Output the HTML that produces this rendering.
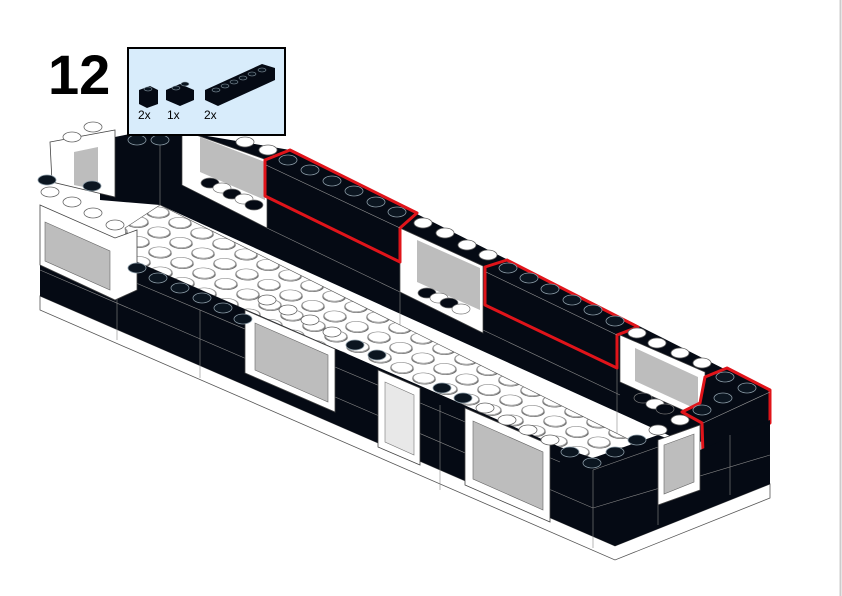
<!DOCTYPE html>
<html><head><meta charset="utf-8"><style>
html,body{margin:0;padding:0;background:#fff;}
svg{display:block;}
</style></head><body>
<svg width="842" height="596" viewBox="0 0 842 596" xmlns="http://www.w3.org/2000/svg">
<defs>
<pattern id="studs" patternUnits="userSpaceOnUse" width="1" height="1" patternTransform="matrix(22,10.5,-21,9.5,157.5,203)">
<rect width="1" height="1" fill="#fff"/>
<circle cx="0.5" cy="0.5" r="0.36" fill="#fff" stroke="#666" stroke-width="0.05"/>
<circle cx="0.45" cy="0.45" r="0.36" fill="#fff" stroke="#888" stroke-width="0.04"/>
</pattern>
</defs>
<rect width="842" height="596" fill="#fff"/>
<line x1="840.5" y1="0" x2="840.5" y2="596" stroke="#ccc" stroke-width="2"/>

<polygon points="40,296 615,546 770,484 770,498 615,560 40,310" fill="#fff" stroke="#555" stroke-width="0.8"/>

<polygon points="100,200 100,140 160,128 290,150 770,392 770,420 690,445 160,205" fill="#050a14"/>
<g stroke="#888" stroke-width="0.6" fill="none">
<line x1="160" y1="205" x2="160" y2="128"/>
<line x1="267" y1="228" x2="400" y2="292"/>
<line x1="400" y1="262" x2="400" y2="325"/>
<line x1="483" y1="330" x2="620" y2="395"/>
<line x1="617" y1="368" x2="617" y2="433"/>
</g>
<polygon points="125,228 160,205 400,325 640,445 690,445 600,465 128,258" fill="url(#studs)" stroke="#555" stroke-width="0.6"/>

<polygon points="182,130 267,160 267,228 182,185" fill="#fff" stroke="#444" stroke-width="0.7"/>
<polygon points="200,137 265,162 265,200 200,172" fill="#bdbdbd"/>
<polygon points="400,228 483,266 483,333 400,292" fill="#fff" stroke="#444" stroke-width="0.7"/>
<polygon points="417,240 480,268 480,310 417,282" fill="#bdbdbd"/>
<polygon points="620,335 705,372 705,420 620,382" fill="#fff" stroke="#444" stroke-width="0.7"/>
<polygon points="635,348 698,377 698,410 635,381" fill="#bdbdbd"/>
<g stroke="#777" stroke-width="0.7">
<ellipse cx="210" cy="183" rx="9" ry="5" fill="#050a14"/><ellipse cx="222" cy="188" rx="9" ry="5" fill="#fff"/>
<ellipse cx="232" cy="194" rx="9" ry="5" fill="#050a14"/><ellipse cx="244" cy="199" rx="9" ry="5" fill="#fff"/>
<ellipse cx="254" cy="205" rx="9" ry="5" fill="#050a14"/>
<ellipse cx="427" cy="293" rx="9" ry="5" fill="#050a14"/><ellipse cx="439" cy="298" rx="9" ry="5" fill="#fff"/>
<ellipse cx="449" cy="303" rx="9" ry="5" fill="#050a14"/><ellipse cx="461" cy="309" rx="9" ry="5" fill="#fff"/>
<ellipse cx="643" cy="398" rx="9" ry="5" fill="#050a14"/><ellipse cx="655" cy="404" rx="9" ry="5" fill="#fff"/>
<ellipse cx="665" cy="409" rx="9" ry="5" fill="#050a14"/>
</g>

<polygon points="50,142 115,130 115,197 52,182" fill="#fff" stroke="#444" stroke-width="0.8"/>
<polygon points="74,152 98,147 98,190 74,185" fill="#bdbdbd"/>

<g fill="#050a14" stroke="#e0141a" stroke-width="3" stroke-linejoin="round">
<polygon points="265,160 290,150 417,213 400,228 400,262 265,196"/>
<polygon points="485,267 507,260 638,327 617,335 617,368 485,305"/>
<polygon points="682,412 700,403 705,377 727,368 770,390 770,423 703,455 702,423"/>
</g>
<g stroke="#999" stroke-width="0.6" fill="none">
<line x1="266" y1="165" x2="400" y2="228"/>
<line x1="486" y1="272" x2="617" y2="335"/>
<line x1="703" y1="423" x2="770" y2="392"/>
</g>

<polygon points="40,250 128,258 560,447 593,458 658,435 700,450 770,420 770,484 615,546 40,296" fill="#050a14"/>
<g stroke="#888" stroke-width="0.6" fill="none">
<line x1="117" y1="275" x2="560" y2="462"/>
<line x1="40" y1="270" x2="593" y2="508"/>
<line x1="593" y1="508" x2="770" y2="455"/>
<line x1="593" y1="470" x2="593" y2="548"/>
<line x1="593" y1="470" x2="658" y2="447"/>
<line x1="117" y1="275" x2="117" y2="340"/>
<line x1="658" y1="442" x2="658" y2="525"/>
<line x1="200" y1="310" x2="200" y2="378"/>
<line x1="440" y1="405" x2="440" y2="490"/>
<line x1="730" y1="435" x2="730" y2="495"/>
</g>

<polygon points="40,205 115,238 137,230 137,290 115,300 40,265" fill="#fff" stroke="#444" stroke-width="0.8"/>
<polygon points="45,222 110,251 110,290 45,261" fill="#bdbdbd" stroke="#666" stroke-width="0.6"/>

<polygon points="245,310 335,349 335,412 245,373" fill="#fff" stroke="#444" stroke-width="0.8"/>
<polygon points="255,323 328,355 328,402 255,370" fill="#bdbdbd" stroke="#666" stroke-width="0.6"/>
<polygon points="378,370 420,388 420,465 378,447" fill="#fff" stroke="#444" stroke-width="0.8"/>
<polygon points="385,382 414,395 414,455 385,442" fill="#e8e8e8" stroke="#777" stroke-width="0.6"/>
<polygon points="465,408 550,445 550,522 465,485" fill="#fff" stroke="#444" stroke-width="0.8"/>
<polygon points="473,421 543,452 543,510 473,479" fill="#bdbdbd" stroke="#666" stroke-width="0.6"/>
<polygon points="658,440 700,425 700,490 658,505" fill="#fff" stroke="#444" stroke-width="0.8"/>
<polygon points="664,445 694,434 694,482 664,494" fill="#bdbdbd" stroke="#666" stroke-width="0.6"/>

<g fill="#fff" stroke="#666" stroke-width="0.8">
<ellipse cx="72" cy="137" rx="9" ry="5"/><ellipse cx="93" cy="127" rx="9" ry="5"/>
<ellipse cx="245" cy="142" rx="9" ry="5"/><ellipse cx="268" cy="150" rx="9" ry="5"/>
<ellipse cx="50" cy="192" rx="9" ry="5"/><ellipse cx="72" cy="202" rx="9" ry="5"/><ellipse cx="93" cy="213" rx="9" ry="5"/><ellipse cx="115" cy="225" rx="9" ry="5"/>
<ellipse cx="267" cy="300" rx="9" ry="5"/><ellipse cx="288" cy="310" rx="9" ry="5"/><ellipse cx="310" cy="320" rx="9" ry="5"/><ellipse cx="332" cy="332" rx="9" ry="5"/>
<ellipse cx="485" cy="408" rx="9" ry="5"/><ellipse cx="507" cy="420" rx="9" ry="5"/><ellipse cx="528" cy="430" rx="9" ry="5"/><ellipse cx="550" cy="440" rx="9" ry="5"/>
<ellipse cx="423" cy="223" rx="9" ry="5"/><ellipse cx="445" cy="233" rx="9" ry="5"/><ellipse cx="467" cy="245" rx="9" ry="5"/><ellipse cx="488" cy="255" rx="9" ry="5"/>
<ellipse cx="637" cy="333" rx="9" ry="5"/><ellipse cx="657" cy="343" rx="9" ry="5"/><ellipse cx="680" cy="353" rx="9" ry="5"/><ellipse cx="702" cy="363" rx="9" ry="5"/>
<ellipse cx="658" cy="430" rx="9" ry="5"/><ellipse cx="680" cy="420" rx="9" ry="5"/>
</g>
<g fill="#0b1520" stroke="#8a9aa5" stroke-width="0.8">
<ellipse cx="288" cy="160" rx="9" ry="5"/><ellipse cx="310" cy="170" rx="9" ry="5"/><ellipse cx="332" cy="181" rx="9" ry="5"/><ellipse cx="354" cy="191" rx="9" ry="5"/><ellipse cx="376" cy="202" rx="9" ry="5"/><ellipse cx="397" cy="212" rx="9" ry="5"/>
<ellipse cx="508" cy="268" rx="9" ry="5"/><ellipse cx="529" cy="278" rx="9" ry="5"/><ellipse cx="550" cy="289" rx="9" ry="5"/><ellipse cx="572" cy="300" rx="9" ry="5"/><ellipse cx="593" cy="310" rx="9" ry="5"/><ellipse cx="615" cy="321" rx="9" ry="5"/>
<ellipse cx="725" cy="377" rx="9" ry="5"/><ellipse cx="747" cy="388" rx="9" ry="5"/><ellipse cx="723" cy="398" rx="9" ry="5"/><ellipse cx="702" cy="410" rx="9" ry="5"/>
<ellipse cx="137" cy="268" rx="9" ry="5"/><ellipse cx="158" cy="278" rx="9" ry="5"/><ellipse cx="180" cy="288" rx="9" ry="5"/><ellipse cx="202" cy="298" rx="9" ry="5"/><ellipse cx="223" cy="308" rx="9" ry="5"/><ellipse cx="243" cy="319" rx="9" ry="5"/>
<ellipse cx="355" cy="345" rx="9" ry="5"/><ellipse cx="377" cy="355" rx="9" ry="5"/>
<ellipse cx="442" cy="388" rx="9" ry="5"/><ellipse cx="463" cy="398" rx="9" ry="5"/>
<ellipse cx="570" cy="452" rx="9" ry="5"/><ellipse cx="592" cy="463" rx="9" ry="5"/><ellipse cx="615" cy="452" rx="9" ry="5"/><ellipse cx="637" cy="440" rx="9" ry="5"/>
<ellipse cx="137" cy="140" rx="9" ry="5"/><ellipse cx="160" cy="140" rx="9" ry="5"/><ellipse cx="47" cy="180" rx="9" ry="5"/><ellipse cx="92" cy="186" rx="9" ry="5"/>
</g>

<text x="48" y="94" font-family="Liberation Sans, sans-serif" font-weight="bold" font-size="56" fill="#000">12</text>
<rect x="128" y="48" width="157" height="87" fill="#d8ecfb" stroke="#000" stroke-width="2"/>
<g fill="#050a14">
<polygon points="139,90 150,86 158,90 158,104 147,108 139,104"/>
<polygon points="166,90 180,84 194,90 194,100 180,106 166,100"/>
<polygon points="205,90 262,64 275,68 275,80 218,106 205,100"/>
</g>
<g fill="#0b1520" stroke="#8a9aa5" stroke-width="0.6">
<ellipse cx="148" cy="89" rx="4" ry="2"/>
<ellipse cx="176" cy="88" rx="4" ry="2"/><ellipse cx="185" cy="84" rx="4" ry="2"/>
<ellipse cx="216" cy="90" rx="4" ry="2"/><ellipse cx="225" cy="86" rx="4" ry="2"/><ellipse cx="234" cy="82" rx="4" ry="2"/><ellipse cx="243" cy="78" rx="4" ry="2"/><ellipse cx="252" cy="74" rx="4" ry="2"/><ellipse cx="262" cy="70" rx="4" ry="2"/>
</g>
<g font-family="Liberation Sans, sans-serif" font-size="12" fill="#000">
<text x="138" y="119">2x</text><text x="167" y="119">1x</text><text x="204" y="119">2x</text>
</g>
</svg>
</body></html>
